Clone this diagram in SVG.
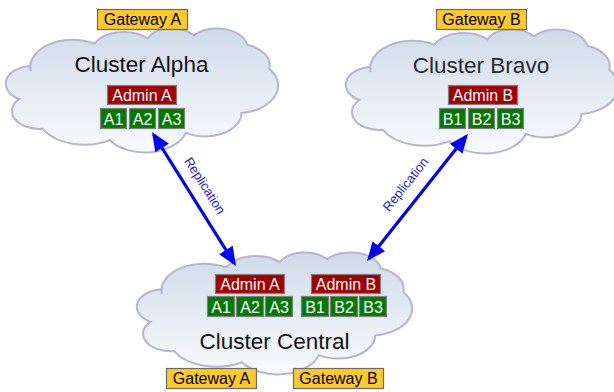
<svg xmlns="http://www.w3.org/2000/svg" width="614" height="392" viewBox="0 0 614 392">
  <defs>
    <linearGradient id="cloudFill" x1="0" y1="0" x2="0" y2="1">
      <stop offset="0" stop-color="#cfdbe9"/>
      <stop offset="1" stop-color="#f9fbfd"/>
    </linearGradient>
    <path id="cloud" vector-effect="non-scaling-stroke" d="M 3900 14370 A 6753 9190 0 0 1 14006 5203 A 5333 7267 0 0 1 22458 3432 A 4365 5945 0 0 1 29836 2480 A 4857 6595 0 0 1 38321 5575 A 5333 7273 0 0 1 41821 13587 A 6775 9220 0 0 1 37407 28330 A 5785 7867 0 0 1 28559 34940 A 6752 9215 0 0 1 16484 37393 A 7720 10543 0 0 1 5807 33598 A 4360 5918 0 0 1 2113 23680 A 4345 5945 0 0 1 3864 12637 Z"/>
    <marker id="arrow" viewBox="0 0 19 16" markerWidth="19" markerHeight="16" refX="16" refY="8" orient="auto-start-reverse" markerUnits="userSpaceOnUse">
      <path d="M0,0 L19,8 L0,16 Z" fill="#0000ff"/>
    </marker>
  </defs>
  <style>
    .cloud { fill: url(#cloudFill); stroke: #b3b6d3; stroke-width: 2; }
    .title { font-family: "Liberation Sans", Arial, sans-serif; font-size: 22.5px; text-anchor: middle; fill: #111111; }
    .lbl { font-family: "Liberation Sans", Arial, sans-serif; font-size: 16px; text-anchor: middle; }
    .gw rect { fill: #ffc926; stroke: #6b6b6b; stroke-width: 1.2; }
    .gw text { fill: #000000; }
    .adm rect { fill: #a30000; stroke: #808080; stroke-width: 1.2; }
    .mem rect { fill: #007a00; stroke: #808080; stroke-width: 1.2; }
    .adm text, .mem text { fill: #ffffff; }
    .conn line { stroke: #0000ff; stroke-width: 3.2; marker-start: url(#arrow); marker-end: url(#arrow); }
    .rep { font-family: "Liberation Sans", Arial, sans-serif; font-size: 13px; fill: #2222ee; text-anchor: middle; }
  </style>

  <g id="cluster-alpha">
    <use href="#cloud" class="cloud" transform="translate(6,28) scale(0.006296,0.003)"/>
    <text class="title" x="141.5" y="72">Cluster Alpha</text>
    <g id="alpha-gateway-a" class="gw"><rect x="97.5" y="9.5" width="90" height="20"/><text class="lbl" x="142.5" y="25">Gateway A</text></g>
    <g id="alpha-admin-a" class="adm"><rect x="107.5" y="85.5" width="69" height="19"/><text class="lbl" x="142" y="101">Admin A</text></g>
    <g id="alpha-a1" class="mem"><rect x="100.5" y="108.5" width="26" height="20"/><text class="lbl" x="113.5" y="124.5">A1</text></g>
    <g id="alpha-a2" class="mem"><rect x="129.5" y="108.5" width="26" height="20"/><text class="lbl" x="142.5" y="124.5">A2</text></g>
    <g id="alpha-a3" class="mem"><rect x="158.5" y="108.5" width="26" height="20"/><text class="lbl" x="171.5" y="124.5">A3</text></g>
  </g>

  <g id="cluster-bravo">
    <use href="#cloud" class="cloud" transform="translate(346,29) scale(0.006296,0.003)"/>
    <text class="title" x="481" y="73" style="fill:#262b33">Cluster Bravo</text>
    <g id="bravo-gateway-b" class="gw"><rect x="436.5" y="9.5" width="90" height="20"/><text class="lbl" x="481.5" y="25">Gateway B</text></g>
    <g id="bravo-admin-b" class="adm"><rect x="448.5" y="85.5" width="69" height="19"/><text class="lbl" x="483" y="101">Admin B</text></g>
    <g id="bravo-b1" class="mem"><rect x="439.5" y="108.5" width="26" height="20"/><text class="lbl" x="452.5" y="124.5">B1</text></g>
    <g id="bravo-b2" class="mem"><rect x="468.5" y="108.5" width="26" height="20"/><text class="lbl" x="481.5" y="124.5">B2</text></g>
    <g id="bravo-b3" class="mem"><rect x="497.5" y="108.5" width="26" height="20"/><text class="lbl" x="510.5" y="124.5">B3</text></g>
  </g>

  <g id="cluster-central">
    <use href="#cloud" class="cloud" transform="translate(137,252) scale(0.006366,0.00295)"/>
    <text class="title" x="274.5" y="349">Cluster Central</text>
    <g id="central-admin-a" class="adm"><rect x="215.5" y="274.5" width="69" height="19"/><text class="lbl" x="250" y="290">Admin A</text></g>
    <g id="central-a1" class="mem"><rect x="207.5" y="296.5" width="27" height="20"/><text class="lbl" x="221" y="312.5">A1</text></g>
    <g id="central-a2" class="mem"><rect x="236.5" y="296.5" width="27" height="20"/><text class="lbl" x="250" y="312.5">A2</text></g>
    <g id="central-a3" class="mem"><rect x="265.5" y="296.5" width="27" height="20"/><text class="lbl" x="279" y="312.5">A3</text></g>
    <g id="central-admin-b" class="adm"><rect x="311.5" y="274.5" width="69" height="19"/><text class="lbl" x="346" y="290">Admin B</text></g>
    <g id="central-b1" class="mem"><rect x="301.5" y="296.5" width="27" height="20"/><text class="lbl" x="315" y="312.5">B1</text></g>
    <g id="central-b2" class="mem"><rect x="330.5" y="296.5" width="27" height="20"/><text class="lbl" x="344" y="312.5">B2</text></g>
    <g id="central-b3" class="mem"><rect x="359.5" y="296.5" width="27" height="20"/><text class="lbl" x="373" y="312.5">B3</text></g>
    <g id="central-gateway-a" class="gw"><rect x="166.5" y="368.5" width="90" height="20"/><text class="lbl" x="211.5" y="384">Gateway A</text></g>
    <g id="central-gateway-b" class="gw"><rect x="293.5" y="368.5" width="90" height="20"/><text class="lbl" x="338.5" y="384">Gateway B</text></g>
  </g>

  <g id="connectors" class="conn">
    <line x1="153.6" y1="134.5" x2="234.4" y2="263.5"/>
    <line x1="368.9" y1="258.7" x2="466.1" y2="136.3"/>
    <text class="rep" transform="translate(201,188) rotate(57.5)">Replication</text>
    <text class="rep" transform="translate(409,187) rotate(-51.5)">Replication</text>
  </g>
</svg>
